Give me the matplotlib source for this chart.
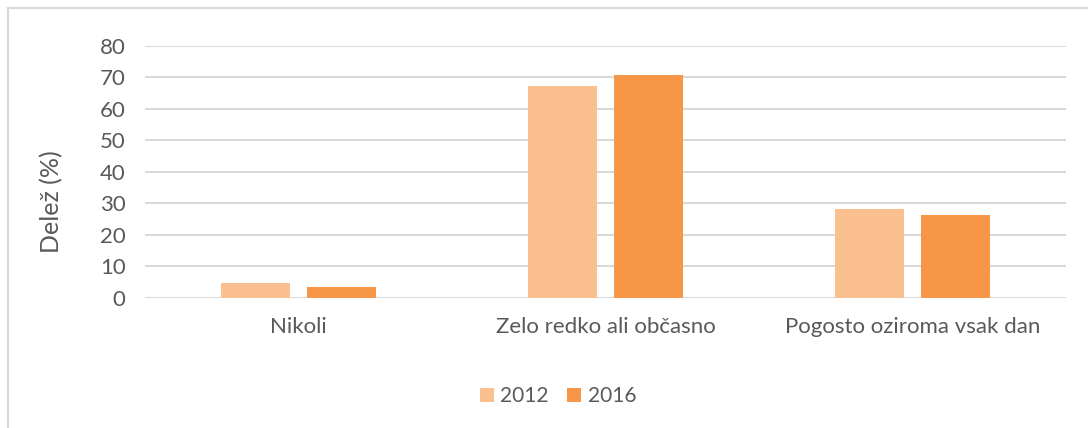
import matplotlib
matplotlib.use('Agg')
import matplotlib.pyplot as plt
import numpy as np

categories = ['Nikoli', 'Zelo redko ali občasno', 'Pogosto oziroma vsak dan']
years = ['2012', '2016']
values_2012 = [4.8, 67.3, 28.2]
values_2016 = [3.4, 70.6, 26.3]
colors = ['#fac090', '#f79646']

plt.rcParams['font.family'] = ['Lato', 'DejaVu Sans']
text_color = '#595959'

fig = plt.figure(figsize=(10.88, 4.28), dpi=100)
ax = fig.add_axes([145 / 1088, 1 - 297.7 / 428, 921 / 1088, 252 / 428])

x = np.arange(len(categories))
w = 0.224
gap = 0.058
ax.bar(x - (w + gap) / 2, values_2012, w, color=colors[0], label=years[0], zorder=3)
ax.bar(x + (w + gap) / 2, values_2016, w, color=colors[1], label=years[1], zorder=3)

ax.set_xlim(-0.5, 2.5)
ax.set_ylim(0, 80)
ax.set_yticks(range(0, 81, 10))
ax.set_xticks(x)
ax.set_xticklabels(categories)
ax.grid(axis='y', color='#d9d9d9', linewidth=1.5, zorder=0)
for s in ax.spines.values():
    s.set_visible(False)
ax.tick_params(axis='both', length=0, labelsize=16, colors=text_color)
ax.tick_params(axis='x', pad=14)
ax.tick_params(axis='y', pad=14)
ax.set_ylabel('Delež (%)', fontsize=18, color=text_color)
ax.yaxis.set_label_coords(52 / 1088, 1 - 202 / 428, transform=fig.transFigure)
ax.yaxis.label.set_verticalalignment('center')

leg = ax.legend(loc='center', bbox_to_anchor=(558 / 1088, 1 - 396 / 428),
                bbox_transform=fig.transFigure, ncol=2, frameon=False,
                fontsize=15, handlelength=0.67, handleheight=0.67,
                columnspacing=0.9, handletextpad=0.3)
for t in leg.get_texts():
    t.set_color(text_color)

# outer chart frame (left and top edges visible)
fig.add_artist(plt.Line2D([8 / 1088, 8 / 1088], [0, 1 - 8 / 428],
                          transform=fig.transFigure, color='#d9d9d9', lw=1.5))
fig.add_artist(plt.Line2D([8 / 1088, 1], [1 - 8 / 428, 1 - 8 / 428],
                          transform=fig.transFigure, color='#d9d9d9', lw=1.5))

fig.savefig('out.png', dpi=100)
